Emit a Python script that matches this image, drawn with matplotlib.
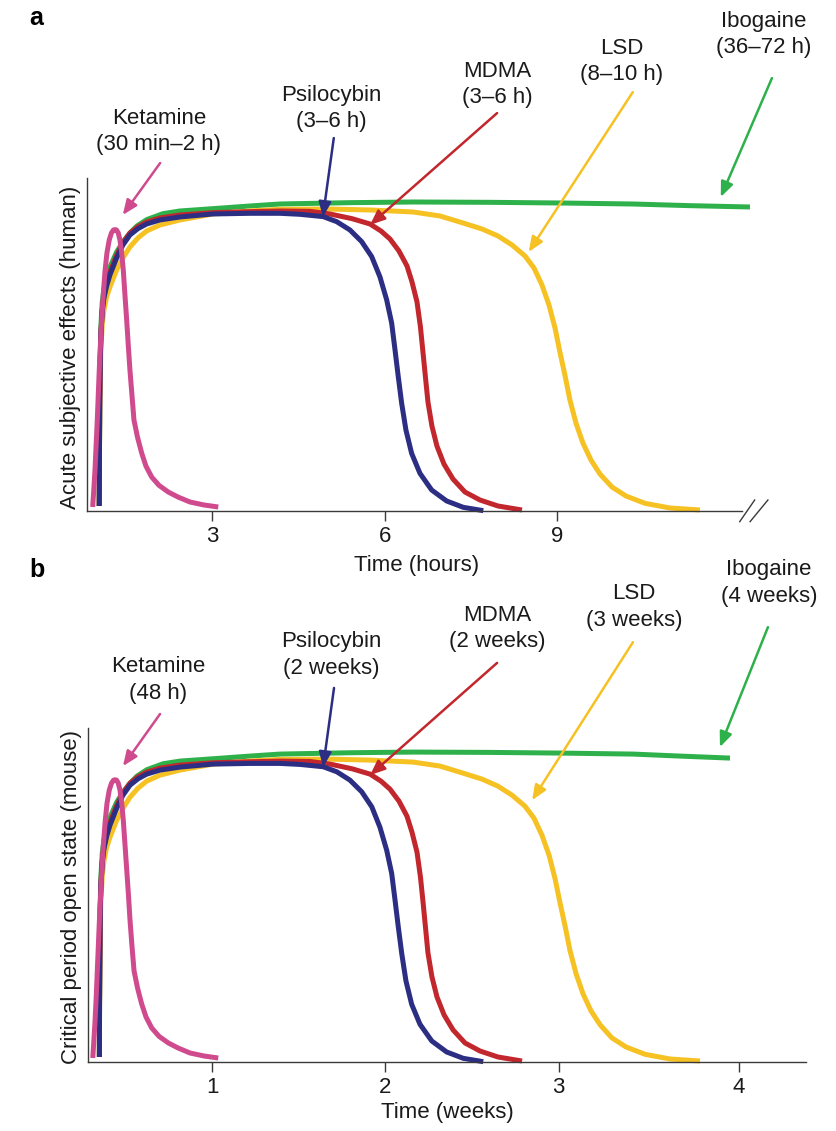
import matplotlib
matplotlib.use("Agg")
import matplotlib.pyplot as plt

plt.rcParams['font.family'] = ['Liberation Sans', 'DejaVu Sans']

# couleurs
C_KET = "#cf4b8e"
C_PSI = "#2b2e83"
C_MDMA = "#c1272d"
C_LSD = "#f6c123"
C_IBO = "#2eb04b"
C_AXE = "#3a3a3a"
C_TXT = "#1a1a1a"

# ---- panneau a : effets subjectifs (heures, % de la hauteur de l'axe) ----
ket_h = [0.917, 0.936, 0.957, 0.977, 0.997, 1.014, 1.031, 1.052, 1.073, 1.101,
         1.130, 1.165, 1.205, 1.243, 1.278, 1.304, 1.330, 1.362, 1.391, 1.421,
         1.449, 1.478, 1.508, 1.536, 1.565, 1.600, 1.635, 1.696, 1.769, 1.843,
         1.943, 2.070, 2.231, 2.400, 2.609, 2.852, 3.101]
ket_y = [1.2, 6.3, 12.3, 19.8, 27.3, 34.8, 42.3, 49.8, 57.4, 64.9,
         71.8, 77.5, 81.4, 83.5, 84.4, 84.5, 84.4, 83.5, 81.4, 77.5,
         72.4, 64.9, 57.4, 49.8, 42.3, 34.8, 27.3, 22.2, 17.4, 13.5,
         10.2, 7.7, 5.7, 4.2, 2.7, 1.8, 1.2]

psi_h = [1.031, 1.035, 1.040, 1.049, 1.061, 1.083, 1.113, 1.160, 1.217, 1.334,
         1.443, 1.565, 1.704, 1.856, 2.087, 2.435, 3.009, 3.652, 4.174, 4.522,
         4.927, 5.160, 5.391, 5.595, 5.769, 5.913, 6.030, 6.117, 6.174, 6.231,
         6.290, 6.365, 6.464, 6.609, 6.812, 7.073, 7.362, 7.710]
psi_y = [1.5, 18.3, 33.3, 45.3, 52.9, 59.8, 64.0, 67.6, 70.9, 76.0,
         79.9, 82.9, 84.8, 86.2, 87.4, 88.3, 89.2, 89.4, 89.4, 89.1,
         88.4, 86.9, 84.4, 80.9, 76.4, 70.3, 63.4, 56.4, 48.5, 40.4,
         32.4, 24.3, 17.3, 11.3, 6.3, 3.0, 1.1, 0.1]

mdma_h = [1.031, 1.035, 1.040, 1.049, 1.061, 1.083, 1.113, 1.160, 1.217, 1.334,
          1.443, 1.565, 1.704, 1.856, 2.087, 2.435, 3.009, 3.652, 4.174, 4.696,
          5.043, 5.426, 5.739, 5.930, 6.087, 6.243, 6.383, 6.470, 6.557, 6.617,
          6.661, 6.704, 6.748, 6.817, 6.904, 7.026, 7.183, 7.391, 7.652, 7.965,
          8.383]
mdma_y = [1.5, 18.3, 33.3, 45.8, 53.5, 60.5, 64.8, 68.5, 71.8, 76.8,
          80.6, 83.5, 85.4, 86.8, 88.0, 88.9, 89.6, 89.9, 90.1, 90.0,
          89.2, 87.8, 86.2, 84.1, 81.7, 78.1, 73.6, 68.8, 62.8, 55.3,
          47.7, 40.2, 32.7, 25.5, 19.5, 14.1, 9.6, 5.7, 3.3, 1.5,
          0.3]

lsd_h = [1.031, 1.035, 1.040, 1.049, 1.061, 1.083, 1.113, 1.160, 1.217, 1.334,
         1.443, 1.565, 1.704, 1.856, 2.087, 2.435, 3.009, 3.652, 4.174, 5.009,
         5.739, 6.487, 6.957, 7.357, 7.687, 7.965, 8.209, 8.435, 8.591, 8.730,
         8.852, 8.957, 9.043, 9.130, 9.217, 9.322, 9.443, 9.583, 9.739, 9.948,
         10.191, 10.522, 10.957, 11.478]
lsd_y = [1.5, 16.8, 30.3, 41.7, 48.9, 55.9, 60.4, 64.3, 67.3, 72.4,
         76.0, 79.3, 82.0, 84.1, 85.9, 87.4, 89.2, 90.1, 90.6, 90.7,
         90.4, 89.8, 88.6, 86.5, 84.7, 82.6, 79.9, 76.6, 73.0, 67.9,
         61.9, 55.0, 47.7, 40.8, 33.3, 26.4, 20.4, 15.3, 11.1, 7.2,
         4.5, 2.3, 0.9, 0.3]

ibo_h = [1.031, 1.035, 1.040, 1.049, 1.061, 1.083, 1.113, 1.160, 1.217, 1.334,
         1.443, 1.565, 1.687, 1.856, 2.139, 2.435, 3.009, 3.652, 4.174, 5.391,
         6.487, 7.826, 9.043, 10.313, 11.304, 12.348]
ibo_y_a = [1.5, 18.3, 34.8, 47.7, 55.9, 62.8, 66.7, 70.3, 73.3, 77.8,
           80.8, 83.5, 85.6, 87.5, 89.3, 90.1, 90.8, 91.6, 92.2, 92.6,
           92.8, 92.7, 92.5, 92.2, 91.7, 91.3]

# ---- panneau b : etat ouvert de la periode critique (semaines) ----
ket_w = [0.312, 0.318, 0.325, 0.332, 0.338, 0.344, 0.350, 0.357, 0.364, 0.373,
         0.383, 0.394, 0.407, 0.420, 0.432, 0.440, 0.449, 0.459, 0.469, 0.479,
         0.488, 0.498, 0.508, 0.518, 0.527, 0.538, 0.550, 0.570, 0.594, 0.619,
         0.652, 0.694, 0.748, 0.804, 0.873, 0.954, 1.036]
psi_w = [0.350, 0.351, 0.353, 0.355, 0.359, 0.367, 0.377, 0.392, 0.411, 0.450,
         0.486, 0.527, 0.573, 0.623, 0.700, 0.815, 1.006, 1.219, 1.392, 1.508,
         1.642, 1.720, 1.796, 1.864, 1.922, 1.969, 2.008, 2.037, 2.056, 2.075,
         2.095, 2.119, 2.152, 2.200, 2.268, 2.354, 2.450, 2.565]
mdma_w = [0.350, 0.351, 0.353, 0.355, 0.359, 0.367, 0.377, 0.392, 0.411, 0.450,
          0.486, 0.527, 0.573, 0.623, 0.700, 0.815, 1.006, 1.219, 1.392, 1.565,
          1.681, 1.808, 1.912, 1.975, 2.027, 2.079, 2.125, 2.154, 2.183, 2.203,
          2.218, 2.232, 2.246, 2.269, 2.298, 2.339, 2.391, 2.460, 2.546, 2.650,
          2.789]
lsd_w = [0.350, 0.351, 0.353, 0.355, 0.359, 0.367, 0.377, 0.392, 0.411, 0.450,
         0.486, 0.527, 0.573, 0.623, 0.700, 0.815, 1.006, 1.219, 1.392, 1.669,
         1.912, 2.160, 2.316, 2.448, 2.558, 2.650, 2.731, 2.806, 2.858, 2.904,
         2.945, 2.979, 3.008, 3.037, 3.066, 3.101, 3.141, 3.187, 3.240, 3.308,
         3.389, 3.499, 3.643, 3.816]
ibo_w = [0.350, 0.351, 0.353, 0.355, 0.359, 0.367, 0.377, 0.392, 0.411, 0.450,
         0.486, 0.527, 0.567, 0.623, 0.717, 0.815, 1.006, 1.219, 1.392, 1.796,
         2.160, 2.604, 3.008, 3.429, 3.700, 3.989]
ibo_y_b = [1.5, 18.3, 34.8, 47.7, 55.9, 62.8, 66.7, 70.3, 73.3, 77.8,
           80.8, 83.5, 85.6, 87.5, 89.3, 90.1, 90.8, 91.6, 92.2, 92.6,
           92.8, 92.7, 92.5, 92.2, 91.6, 91.0]

drugs = ["Ketamine", "Psilocybin", "MDMA", "LSD", "Ibogaine"]
colors = [C_KET, C_PSI, C_MDMA, C_LSD, C_IBO]
dur_a = ["30 min\u20132 h", "3\u20136 h", "3\u20136 h", "8\u201310 h", "36\u201372 h"]
dur_b = ["48 h", "2 weeks", "2 weeks", "3 weeks", "4 weeks"]

ticks_a = [3, 6, 9]
ticks_b = [1, 2, 3, 4.04]
ticklab_b = ["1", "2", "3", "4"]

# position des etiquettes / fleches (unites des donnees)
txt_a = [(2.07, 114.0), (5.06, 120.9), (7.95, 128.1), (10.12, 135.1), (12.59, 143.2)]
tail_a = [(2.09, 104.5), (5.11, 112.0), (7.95, 119.5), (10.31, 125.8), (12.73, 130.0)]
head_a = [(1.44, 88.9), (4.92, 88.3), (5.74, 85.9), (8.50, 77.8), (11.84, 94.3)]

txt_b = [(0.688, 114.4), (1.687, 121.9), (2.645, 129.9), (3.435, 136.2), (4.214, 143.4)]
tail_b = [(0.700, 104.2), (1.704, 112.0), (2.645, 119.5), (3.429, 125.7), (4.208, 130.2)]
head_b = [(0.486, 88.6), (1.641, 88.3), (1.912, 85.9), (2.847, 78.4), (3.931, 94.3)]

FS = 16
LW = 3.6

fig = plt.figure(figsize=(8.36, 11.31), dpi=100)
ax_a = fig.add_axes([0.1044, 0.5482, 0.8286, 0.2944])
ax_b = fig.add_axes([0.1053, 0.0610, 0.8589, 0.2953])


def draw_panel(ax, series, ticks, ticklabels, txt, tail, head, durs):
    # ordre de trace : vert, jaune, rouge, bleu, rose
    for x, y, c in series:
        ax.plot(x, y, color=c, lw=LW, solid_capstyle="butt",
                solid_joinstyle="round", clip_on=False)
    for i in range(5):
        ax.annotate("", xy=head[i], xytext=tail[i], xycoords="data",
                    arrowprops=dict(arrowstyle="-|>,head_length=0.6,head_width=0.25",
                                    color=colors[i], lw=1.8, shrinkA=0, shrinkB=0,
                                    mutation_scale=15),
                    annotation_clip=False)
        ax.text(txt[i][0], txt[i][1], f"{drugs[i]}\n({durs[i]})", ha="center",
                va="center", fontsize=FS, color=C_TXT, linespacing=1.33,
                clip_on=False)
    ax.set_ylim(0, 100)
    ax.set_yticks([])
    ax.set_xticks(ticks)
    ax.set_xticklabels(ticklabels)
    for s in ["top", "right"]:
        ax.spines[s].set_visible(False)
    for s in ["left", "bottom"]:
        ax.spines[s].set_color(C_AXE)
        ax.spines[s].set_linewidth(1.0)
    ax.tick_params(axis="x", direction="out", length=7, width=1.0, pad=4,
                   labelsize=FS, colors=C_AXE, labelcolor=C_TXT)
    ax.patch.set_visible(False)


draw_panel(ax_a,
           [(ibo_h, ibo_y_a, C_IBO), (lsd_h, lsd_y, C_LSD), (mdma_h, mdma_y, C_MDMA),
            (psi_h, psi_y, C_PSI), (ket_h, ket_y, C_KET)],
           ticks_a, [str(t) for t in ticks_a], txt_a, tail_a, head_a, dur_a)
ax_a.set_xlim(0.823, 12.87)
ax_a.spines["bottom"].set_bounds(0.823, 12.21)
# coupure de l'axe (//)
for x0, x1 in [(12.17, 12.43), (12.35, 12.66)]:
    ax_a.plot([x0, x1], [-3.2, 3.3], color=C_AXE, lw=1.0, clip_on=False)
ax_a.set_xlabel("Time (hours)", fontsize=FS, color=C_TXT)
ax_a.xaxis.set_label_coords(0.476, -0.133)
ax_a.set_ylabel("Acute subjective effects (human)", fontsize=FS, color=C_TXT)
ax_a.yaxis.set_label_coords(-0.0085, 0.49)

draw_panel(ax_b,
           [(ibo_w, ibo_y_b, C_IBO), (lsd_w, lsd_y, C_LSD), (mdma_w, mdma_y, C_MDMA),
            (psi_w, psi_y, C_PSI), (ket_w, ket_y, C_KET)],
           ticks_b, ticklab_b, txt_b, tail_b, head_b, dur_b)
ax_b.set_xlim(0.2845, 4.428)
ax_b.set_xlabel("Time (weeks)", fontsize=FS, color=C_TXT)
ax_b.xaxis.set_label_coords(0.5, -0.121)
ax_b.set_ylabel("Critical period open state (mouse)", fontsize=FS, color=C_TXT)
ax_b.yaxis.set_label_coords(-0.009, 0.495)

fig.text(29 / 836, 1 - 25 / 1131, "a", fontsize=18, fontweight="bold",
         va="baseline", ha="left", color="black")
fig.text(29 / 836, 1 - 577 / 1131, "b", fontsize=18, fontweight="bold",
         va="baseline", ha="left", color="black")

fig.savefig("out.png", dpi=100)
